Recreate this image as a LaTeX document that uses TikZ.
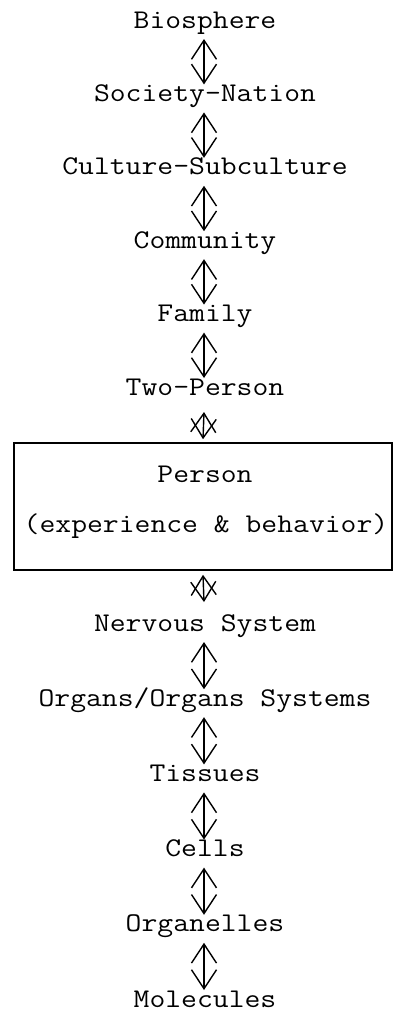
\documentclass[tikz,border=0pt]{standalone}
\usepackage{graphicx}
\usetikzlibrary{arrows.meta}
\newcommand\stt[1]{\scalebox{1.14}[1]{#1}}
\begin{document}
\begin{tikzpicture}[x=1pt,y=1pt,
  txt/.style={anchor=base, inner sep=0pt, font=\fontsize{27}{30}\selectfont\ttfamily},
  arr/.style={line width=1.4pt,
    {Straight Barb[length=19pt,width=25pt]}-{Straight Barb[length=19pt,width=25pt]}},
  bigbox/.style={draw, line width=1.6pt, minimum width=378pt, minimum height=127pt, inner sep=0pt}]
\useasboundingbox (0,0) rectangle (393,-1013);
% upper chain
\node[txt] (bio) at (205,-28) {\stt{Biosphere}};
\node[txt] (soc) at (205,-101.4) {\stt{Society-Nation}};
\node[txt] (cul) at (205,-174.8) {\stt{Culture-Subculture}};
\node[txt] (com) at (205,-248.2) {\stt{Community}};
\node[txt] (fam) at (205,-321.6) {\stt{Family}};
\node[txt] (two) at (205,-395) {\stt{Two-Person}};
% box
\node[bigbox] (box) at (203,-506.5) {};
\node[txt] (per) at (205,-482) {\stt{Person}};
\node[txt] (exp) at (206,-532) {\stt{(experience \& behavior)}};
% lower chain
\node[txt] (ner) at (205,-631) {\stt{Nervous System}};
\node[txt] (org) at (205,-706.2) {\stt{Organs/Organs Systems}};
\node[txt] (tis) at (205,-781.4) {\stt{Tissues}};
\node[txt] (cel) at (205,-856.6) {\stt{Cells}};
\node[txt] (orl) at (205,-931.8) {\stt{Organelles}};
\node[txt] (mol) at (205,-1007) {\stt{Molecules}};
% arrows
\foreach \a/\b in {bio/soc, soc/cul, cul/com, com/fam, fam/two,
                   ner/org, org/tis, tis/cel, cel/orl, orl/mol}
  \draw[arr] ([xshift=-1pt,yshift=-11pt]\a.base) -- ([xshift=-1pt,yshift=17pt]\b.base);
\draw[arr] ([xshift=-1pt,yshift=-17pt]two.base) -- ([yshift=3pt]box.north);
\draw[arr] ([yshift=-4pt]box.south) -- ([xshift=-1pt,yshift=29pt]ner.base);
\end{tikzpicture}
\end{document}
